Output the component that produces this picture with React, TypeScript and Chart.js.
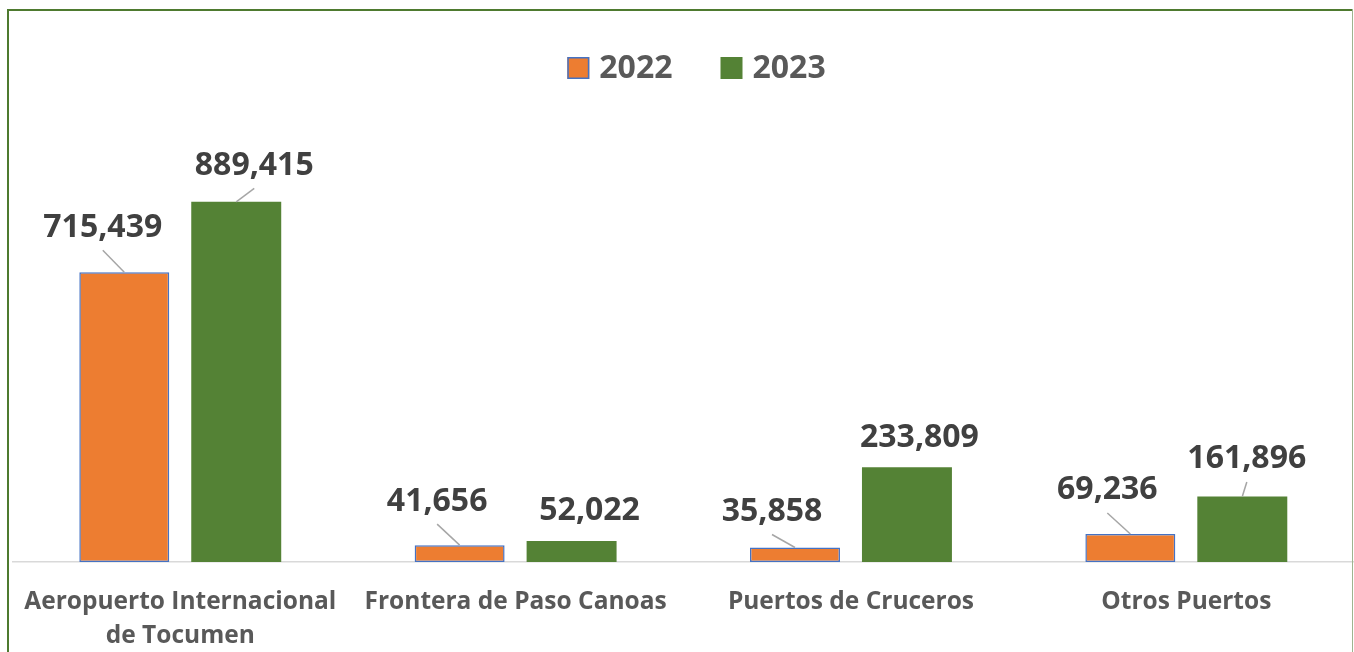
import React, { useEffect, useRef } from 'react';
import { Chart, registerables } from 'chart.js';

Chart.register(...registerables);

// ---- data ----
const categories: (string | string[])[] = [
  ['Aeropuerto Internacional', 'de Tocumen'],
  'Frontera de Paso Canoas',
  'Puertos de Cruceros',
  'Otros Puertos',
];
const seriesNames = ['2022', '2023'];
const values2022 = [715439, 41656, 35858, 69236];
const values2023 = [889415, 52022, 233809, 161896];
const yMin = 0;
const yMax = 1000000;

// ---- styles ----
const orange = '#ED7D31';
const orangeBorder = '#4472C4';
const green = '#548235';
const frameColor = '#4E7A2F';
const FONT = "'Open Sans', 'DejaVu Sans', sans-serif";
// data-label offsets relative to each bar's top centre (px)
const labelDx = [
  [-21.5, -22.5, -23, -23],
  [18, 18, 12.5, 4.5],
];
const labelDy = [
  [-47, -46, -38, -46],
  [-38.5, -32.5, -32, -39.5],
];

const fmt = (v: number) => v.toLocaleString('en-US');

const customPlugin = {
  id: 'customDraw',
  beforeDraw(chart: any) {
    const ctx = chart.ctx;
    ctx.save();
    ctx.fillStyle = '#ffffff';
    ctx.fillRect(0, 0, chart.width, chart.height);
    ctx.restore();
  },
  afterDatasetsDraw(chart: any) {
    const ctx = chart.ctx;
    ctx.save();
    const size = 32;
    ctx.font = `bold ${size}px ${FONT}`;
    ctx.textAlign = 'center';
    ctx.textBaseline = 'alphabetic';
    chart.data.datasets.forEach((ds: any, di: number) => {
      const meta = chart.getDatasetMeta(di);
      meta.data.forEach((bar: any, i: number) => {
        const { x, y } = bar.getProps(['x', 'y'], true);
        const lx = x + labelDx[di][i];
        const ly = y + labelDy[di][i];
        const sy = ly + 25;
        if (y - sy > 10) {
          ctx.strokeStyle = '#A6A6A6';
          ctx.lineWidth = 1.5;
          ctx.beginPath();
          ctx.moveTo(lx, sy);
          ctx.lineTo(x, y);
          ctx.stroke();
        }
        ctx.fillStyle = '#404040';
        ctx.fillText(fmt(ds.data[i]), lx, ly + size * 0.357);
      });
    });
    ctx.restore();
  },
  afterDraw(chart: any) {
    const ctx = chart.ctx;
    ctx.save();
    // legend
    const size = 32;
    ctx.font = `bold ${size}px ${FONT}`;
    const box = 22;
    const gapBoxText = 10;
    const gapItems = 48;
    const widths = chart.data.datasets.map((ds: any) => ctx.measureText(ds.label).width);
    const total =
      widths.reduce((a: number, w: number) => a + box + gapBoxText + w, 0) +
      gapItems * (widths.length - 1);
    let cx = 696.5 - total / 2;
    const boxTop = 57;
    const textMid = 66.5;
    chart.data.datasets.forEach((ds: any, di: number) => {
      ctx.fillStyle = ds.backgroundColor;
      ctx.fillRect(cx, boxTop, box, box);
      if (ds.borderWidth > 0) {
        ctx.strokeStyle = ds.borderColor;
        ctx.lineWidth = 1.5;
        ctx.strokeRect(cx + 0.75, boxTop + 0.75, box - 1.5, box - 1.5);
      }
      ctx.fillStyle = '#595959';
      ctx.textAlign = 'left';
      ctx.textBaseline = 'alphabetic';
      ctx.fillText(ds.label, cx + box + gapBoxText, textMid + size * 0.357);
      cx += box + gapBoxText + widths[di] + gapItems;
    });
    // frame
    ctx.fillStyle = frameColor;
    ctx.fillRect(7, 9, 2, chart.height - 9);
    ctx.fillRect(7, 9, chart.width - 9, 2);
    ctx.fillStyle = '#9FB48F';
    ctx.fillRect(1352, 9, 1, chart.height - 9);
    ctx.restore();
  },
};

export default function App() {
  const ref = useRef<HTMLCanvasElement>(null);
  useEffect(() => {
    if (!ref.current) return;
    const chart = new Chart(ref.current, {
      type: 'bar',
      data: {
        labels: categories,
        datasets: [
          {
            label: seriesNames[0],
            data: values2022,
            backgroundColor: orange,
            borderColor: orangeBorder,
            borderWidth: 1.5,
            borderSkipped: false,
            categoryPercentage: 0.6677,
            barPercentage: 0.8036,
          },
          {
            label: seriesNames[1],
            data: values2023,
            backgroundColor: green,
            borderColor: green,
            borderWidth: 0,
            categoryPercentage: 0.6677,
            barPercentage: 0.8036,
          },
        ],
      },
      options: {
        responsive: false,
        animation: false,
        layout: { padding: { left: 10, right: 0, top: 157, bottom: 0 } },
        plugins: {
          legend: { display: false },
          tooltip: { enabled: false },
        },
        scales: {
          x: {
            grid: { display: false, drawTicks: false },
            border: { display: true, color: '#D9D9D9', width: 1.5 },
            ticks: {
              color: '#595959',
              padding: 23,
              maxRotation: 0,
              autoSkip: false,
              font: { family: FONT, size: 24.5, weight: 'bold', lineHeight: 1.4 },
            },
            afterFit: (s: any) => {
              s.height = 90;
            },
          },
          y: {
            display: false,
            min: yMin,
            max: yMax,
          },
        },
      },
      plugins: [customPlugin],
    } as any);
    return () => chart.destroy();
  }, []);
  return (
    <div style={{ position: 'fixed', left: 0, top: 0, width: 1354, height: 652, background: '#fff' }}>
      <canvas ref={ref} width={1354} height={652} style={{ display: 'block' }} />
    </div>
  );
}
